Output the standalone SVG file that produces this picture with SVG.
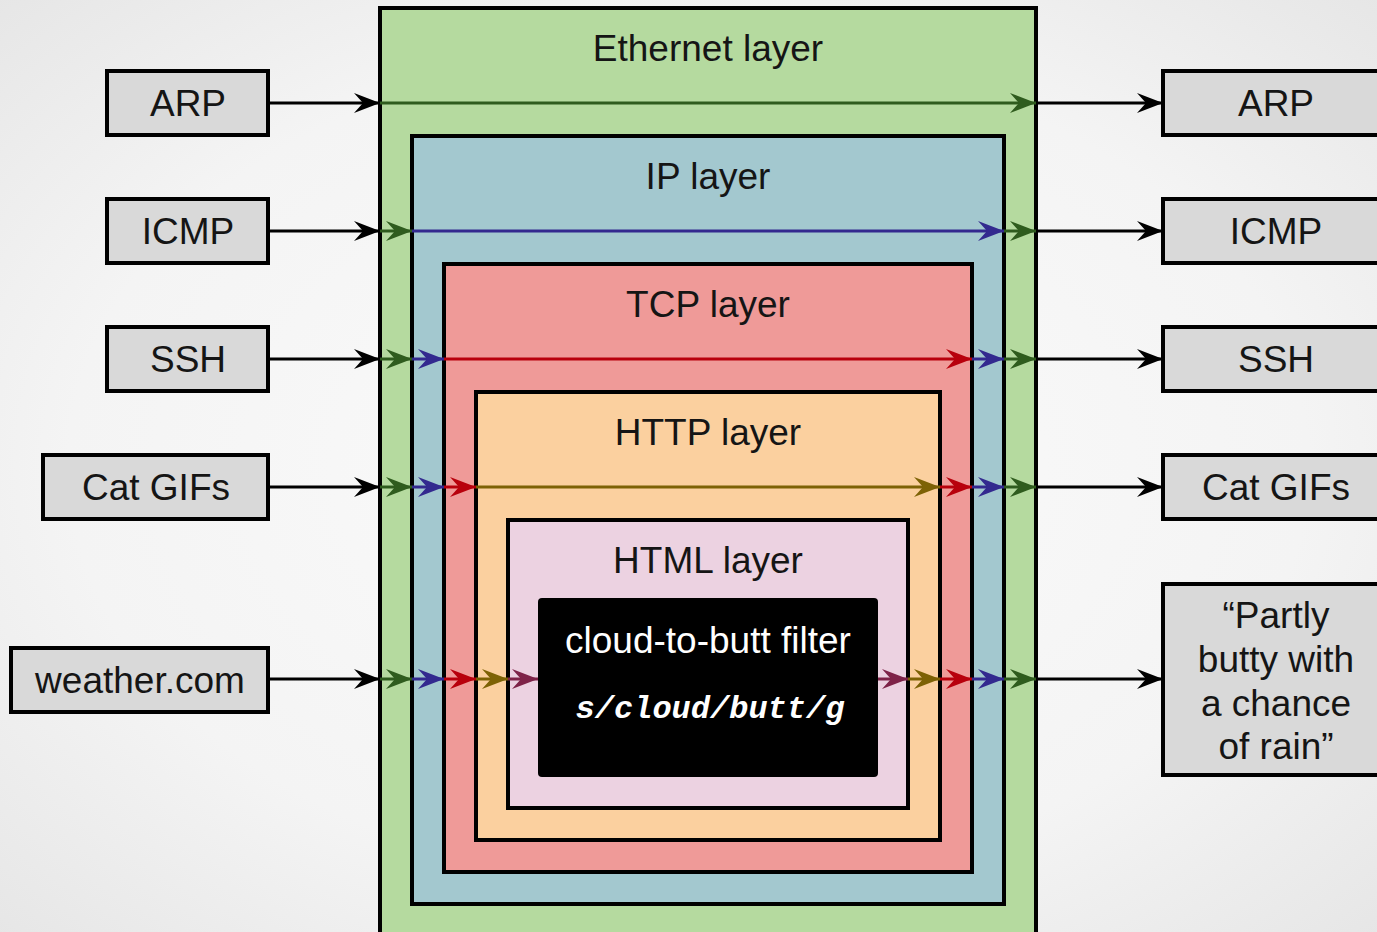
<svg xmlns="http://www.w3.org/2000/svg" width="1377" height="932" viewBox="0 0 1377 932">
<defs>
<radialGradient id="bg" cx="50%" cy="50%" r="75%">
<stop offset="0" stop-color="#fbfbfb"/>
<stop offset="0.6" stop-color="#f4f4f4"/>
<stop offset="1" stop-color="#e4e4e4"/>
</radialGradient>
<marker id="ak" markerUnits="userSpaceOnUse" markerWidth="30" markerHeight="24" viewBox="-28 -12 30 24" refX="0" refY="0" orient="auto"><path d="M0,0 L-26,-10 L-17,0 L-26,10 Z" fill="#000"/></marker>
<marker id="ag" markerUnits="userSpaceOnUse" markerWidth="30" markerHeight="24" viewBox="-28 -12 30 24" refX="0" refY="0" orient="auto"><path d="M0,0 L-26,-10 L-17,0 L-26,10 Z" fill="#2f5c1e"/></marker>
<marker id="ab" markerUnits="userSpaceOnUse" markerWidth="30" markerHeight="24" viewBox="-28 -12 30 24" refX="0" refY="0" orient="auto"><path d="M0,0 L-26,-10 L-17,0 L-26,10 Z" fill="#33298f"/></marker>
<marker id="ar" markerUnits="userSpaceOnUse" markerWidth="30" markerHeight="24" viewBox="-28 -12 30 24" refX="0" refY="0" orient="auto"><path d="M0,0 L-26,-10 L-17,0 L-26,10 Z" fill="#b8000c"/></marker>
<marker id="ao" markerUnits="userSpaceOnUse" markerWidth="30" markerHeight="24" viewBox="-28 -12 30 24" refX="0" refY="0" orient="auto"><path d="M0,0 L-26,-10 L-17,0 L-26,10 Z" fill="#7d6205"/></marker>
<marker id="ap" markerUnits="userSpaceOnUse" markerWidth="30" markerHeight="24" viewBox="-28 -12 30 24" refX="0" refY="0" orient="auto"><path d="M0,0 L-26,-10 L-17,0 L-26,10 Z" fill="#7e2348"/></marker>
</defs>
<style>
text{font-family:"Liberation Sans",Arial,sans-serif;font-size:37px;fill:#151515;text-anchor:middle}
.layer{stroke:#000;stroke-width:4}
.box{fill:#d9d9d9;stroke:#000;stroke-width:4}
.c{fill:none;stroke-width:3}
.k{stroke:#000;marker-end:url(#ak)}
.g{stroke:#2f5c1e;marker-end:url(#ag)}
.b{stroke:#33298f;marker-end:url(#ab)}
.r{stroke:#b8000c;marker-end:url(#ar)}
.o{stroke:#7d6205;marker-end:url(#ao)}
.p{stroke:#7e2348;marker-end:url(#ap)}
.mono{font-family:"Liberation Mono","Courier New",monospace;font-weight:bold;font-style:italic;font-size:32px;fill:#fff}
</style>
<rect x="0" y="0" width="1377" height="932" fill="url(#bg)"/>
<g id="ethernet"><rect class="layer" x="380" y="8" width="656" height="940" fill="#b5da9f"/><text x="708" y="61">Ethernet layer</text></g>
<g id="ip"><rect class="layer" x="412" y="136" width="592" height="768" fill="#a3c8cf"/><text x="708" y="189">IP layer</text></g>
<g id="tcp"><rect class="layer" x="444" y="264" width="528" height="608" fill="#ef9a98"/><text x="708" y="317">TCP layer</text></g>
<g id="http"><rect class="layer" x="476" y="392" width="464" height="448" fill="#fbd09f"/><text x="708" y="445">HTTP layer</text></g>
<g id="html"><rect class="layer" x="508" y="520" width="400" height="288" fill="#ecd2e1"/><text x="708" y="573">HTML layer</text></g>
<g id="filter"><rect x="538" y="598" width="340" height="179" rx="4" fill="#000"/><text x="708" y="653" style="fill:#fff">cloud-to-butt filter</text><text class="mono" x="710" y="718">s/cloud/butt/g</text></g>
<g id="in-arp"><rect class="box" x="107" y="71" width="161" height="64"/><text x="188" y="116">ARP</text></g>
<g id="in-icmp"><rect class="box" x="107" y="199" width="161" height="64"/><text x="188" y="244">ICMP</text></g>
<g id="in-ssh"><rect class="box" x="107" y="327" width="161" height="64"/><text x="188" y="372">SSH</text></g>
<g id="in-cat"><rect class="box" x="43" y="455" width="225" height="64"/><text x="156" y="500">Cat GIFs</text></g>
<g id="in-weather"><rect class="box" x="11" y="648" width="257" height="64"/><text x="140" y="693">weather.com</text></g>
<g id="out-arp"><rect class="box" x="1163" y="71" width="230" height="64"/><text x="1276" y="116">ARP</text></g>
<g id="out-icmp"><rect class="box" x="1163" y="199" width="230" height="64"/><text x="1276" y="244">ICMP</text></g>
<g id="out-ssh"><rect class="box" x="1163" y="327" width="230" height="64"/><text x="1276" y="372">SSH</text></g>
<g id="out-cat"><rect class="box" x="1163" y="455" width="230" height="64"/><text x="1276" y="500">Cat GIFs</text></g>
<g id="out-weather"><rect class="box" x="1163" y="584" width="230" height="191"/><text x="1276" y="628">“Partly</text><text x="1276" y="672">butty with</text><text x="1276" y="716">a chance</text><text x="1276" y="759">of rain”</text></g>
<g id="connectors">
<line class="c k" x1="268" y1="103" x2="380" y2="103"/>
<line class="c g" x1="380" y1="103" x2="1036" y2="103"/>
<line class="c k" x1="1036" y1="103" x2="1163" y2="103"/>

<line class="c k" x1="268" y1="231" x2="380" y2="231"/>
<line class="c g" x1="380" y1="231" x2="412" y2="231"/>
<line class="c b" x1="412" y1="231" x2="1004" y2="231"/>
<line class="c g" x1="1004" y1="231" x2="1036" y2="231"/>
<line class="c k" x1="1036" y1="231" x2="1163" y2="231"/>

<line class="c k" x1="268" y1="359" x2="380" y2="359"/>
<line class="c g" x1="380" y1="359" x2="412" y2="359"/>
<line class="c b" x1="412" y1="359" x2="444" y2="359"/>
<line class="c r" x1="444" y1="359" x2="972" y2="359"/>
<line class="c b" x1="972" y1="359" x2="1004" y2="359"/>
<line class="c g" x1="1004" y1="359" x2="1036" y2="359"/>
<line class="c k" x1="1036" y1="359" x2="1163" y2="359"/>

<line class="c k" x1="268" y1="487" x2="380" y2="487"/>
<line class="c g" x1="380" y1="487" x2="412" y2="487"/>
<line class="c b" x1="412" y1="487" x2="444" y2="487"/>
<line class="c r" x1="444" y1="487" x2="476" y2="487"/>
<line class="c o" x1="476" y1="487" x2="940" y2="487"/>
<line class="c r" x1="940" y1="487" x2="972" y2="487"/>
<line class="c b" x1="972" y1="487" x2="1004" y2="487"/>
<line class="c g" x1="1004" y1="487" x2="1036" y2="487"/>
<line class="c k" x1="1036" y1="487" x2="1163" y2="487"/>

<line class="c k" x1="268" y1="679" x2="380" y2="679"/>
<line class="c g" x1="380" y1="679" x2="412" y2="679"/>
<line class="c b" x1="412" y1="679" x2="444" y2="679"/>
<line class="c r" x1="444" y1="679" x2="476" y2="679"/>
<line class="c o" x1="476" y1="679" x2="508" y2="679"/>
<line class="c p" x1="508" y1="679" x2="538" y2="679"/>
<line class="c p" x1="878" y1="679" x2="908" y2="679"/>
<line class="c o" x1="908" y1="679" x2="940" y2="679"/>
<line class="c r" x1="940" y1="679" x2="972" y2="679"/>
<line class="c b" x1="972" y1="679" x2="1004" y2="679"/>
<line class="c g" x1="1004" y1="679" x2="1036" y2="679"/>
<line class="c k" x1="1036" y1="679" x2="1163" y2="679"/>
</g>
</svg>
